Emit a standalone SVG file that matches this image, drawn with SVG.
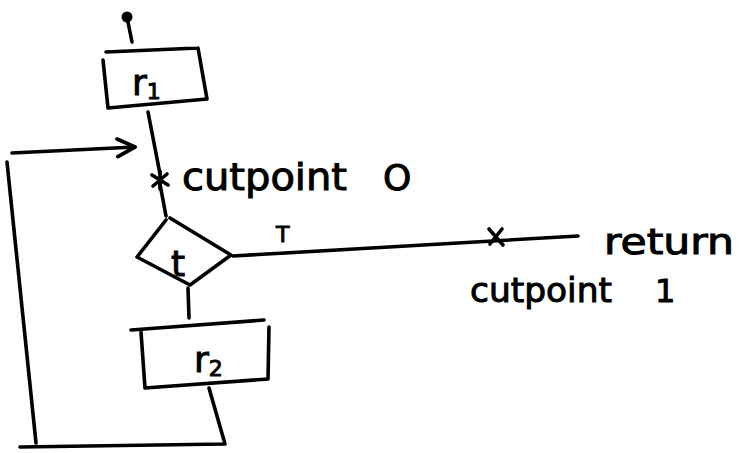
<svg xmlns="http://www.w3.org/2000/svg" width="743" height="453" viewBox="0 0 743 453">
<style>
.s{fill:none;stroke:#000;stroke-width:3.6;stroke-linecap:round;stroke-linejoin:round}
.t{font-family:"DejaVu Sans",sans-serif;fill:#000;stroke:#000;stroke-width:1}
</style>
<defs>
<marker id="ar" viewBox="0 0 20 20" refX="18" refY="10" markerWidth="22" markerHeight="22" markerUnits="userSpaceOnUse" orient="auto">
<path d="M2,2 L18,10 L2,18" fill="none" stroke="#000" stroke-width="3.4" stroke-linecap="round" stroke-linejoin="round"/>
</marker>
</defs>
<rect width="743" height="453" fill="#fff"/>
<g id="start">
<circle cx="127" cy="17" r="5.5" fill="#000"/>
</g>
<g id="r1">
<path class="s" d="M106,52 L198,48 M198,48 L207,99 L108,108 M103,60 L108,108"/>
<text class="t" x="132" y="95" font-size="36">r<tspan font-size="22" dy="4">1</tspan></text>
</g>
<g id="decision">
<path class="s" d="M170,218 L231,255 L190,285 L137,257 L166,220"/>
<text class="t" x="171" y="276" font-size="36">t</text>
</g>
<g id="r2">
<path class="s" d="M131,330 L264,320 M141,332 L145,388 L268,379 L269,327"/>
<text class="t" x="194" y="372" font-size="36">r<tspan font-size="22" dy="4">2</tspan></text>
</g>
<g id="return">
<text class="t" x="604" y="254" font-size="36" textLength="130" lengthAdjust="spacingAndGlyphs">return</text>
</g>
<g id="connectors">
<path class="s" d="M128,22 L132,42"/>
<path class="s" d="M148,112 L160,174 M160,184 L166,216"/>
<path class="s" d="M188,288 L189,318"/>
<path class="s" d="M233,256 L578,236"/>
<path class="s" d="M209,388 L225,444 L20,447"/>
<path class="s" d="M36,443 L7,162 M12,153 L135,147" marker-end="url(#ar)"/>
<path class="s" d="M152,175 L168,185 M153,186 L167,174 M160,171 L160,189"/>
<path class="s" d="M489,229 L503,245 M490,244 L502,229"/>
<text class="t" x="276" y="242" font-size="22">T</text>
<text class="t" x="182" y="190" font-size="38" textLength="165" lengthAdjust="spacingAndGlyphs">cutpoint</text>
<text class="t" x="383" y="190" font-size="36">O</text>
<text class="t" x="470" y="302" font-size="34" textLength="142" lengthAdjust="spacingAndGlyphs">cutpoint</text>
<text class="t" x="655" y="302" font-size="32">1</text>
</g>
</svg>
